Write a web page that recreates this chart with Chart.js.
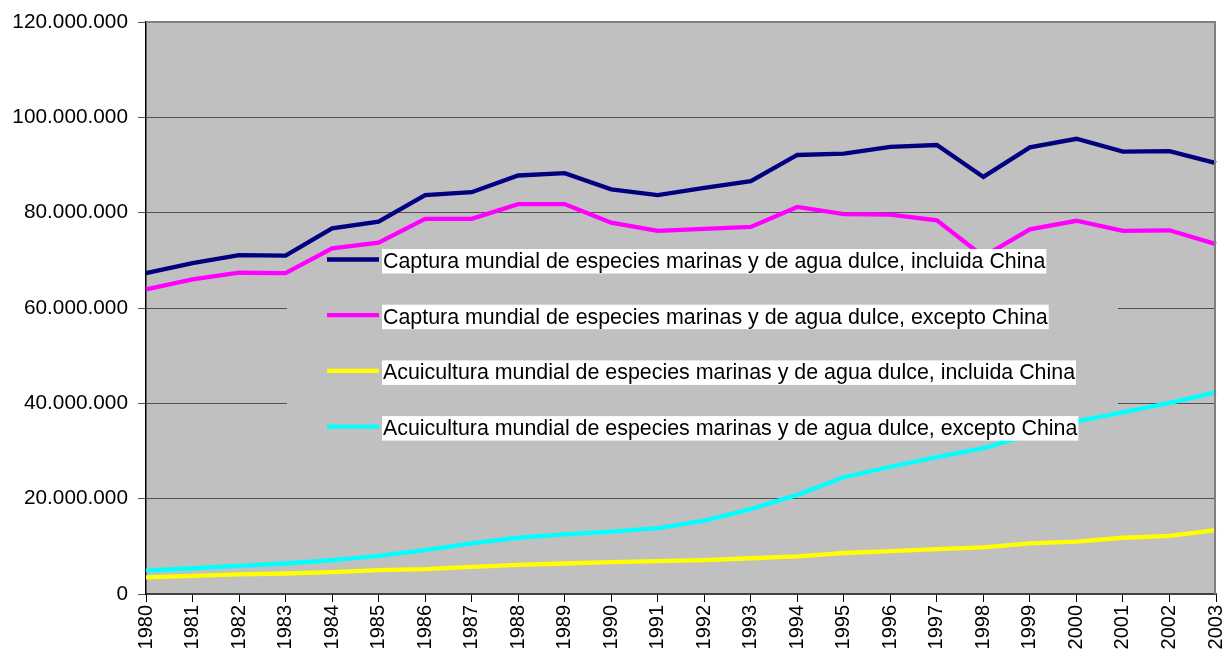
<!DOCTYPE html>
<html>
<head>
<meta charset="utf-8">
<script src="https://cdn.jsdelivr.net/npm/chart.js@4"></script>
<style>
  html, body { margin: 0; padding: 0; background: #ffffff; }
  #wrap { width: 1224px; height: 660px; }
</style>
</head>
<body>
<div id="wrap"><canvas id="chart"></canvas></div>
<script>
// Años (eje X)
const years = ['1980', '1981', '1982', '1983', '1984', '1985', '1986', '1987', '1988', '1989', '1990', '1991',
  '1992', '1993', '1994', '1995', '1996', '1997', '1998', '1999', '2000', '2001', '2002', '2003'];

// Toneladas por año
const capturaConChina = [67300000, 69400000, 71100000, 71000000, 76700000, 78100000, 83700000, 84300000,
  87800000, 88300000, 84900000, 83700000, 85200000, 86600000, 92100000, 92400000, 93800000, 94200000,
  87500000, 93700000, 95500000, 92800000, 92900000, 90400000];
const capturaSinChina = [63900000, 66000000, 67400000, 67300000, 72500000, 73700000, 78700000, 78700000,
  81800000, 81800000, 77900000, 76200000, 76600000, 77000000, 81200000, 79700000, 79600000, 78400000,
  70800000, 76500000, 78300000, 76200000, 76300000, 73400000];
const acuiculturaConChina = [3500000, 3800000, 4100000, 4300000, 4600000, 5000000, 5200000, 5700000,
  6100000, 6400000, 6700000, 6900000, 7100000, 7500000, 7900000, 8600000, 9000000, 9400000,
  9800000, 10600000, 11000000, 11800000, 12200000, 13400000];
const acuiculturaSinChina = [4900000, 5400000, 5900000, 6400000, 7100000, 8000000, 9200000, 10600000,
  11800000, 12500000, 13100000, 13800000, 15400000, 17800000, 20800000, 24500000, 26700000, 28700000,
  30600000, 33400000, 36200000, 38100000, 40100000, 42300000];

const yTicks = [0, 20000000, 40000000, 60000000, 80000000, 100000000, 120000000];

const FAMILY = "'Liberation Sans', Arial, sans-serif";
const FONT = { family: FAMILY, size: 20 };
const FONT_Y = { family: FAMILY, size: 20.8 };
const LEGEND_SIZE = 21.4;

function formatMiles(v) {
  return String(Math.round(v)).replace(/\B(?=(\d{3})+(?!\d))/g, '.');
}

function serie(label, data, color) {
  return {
    label: label,
    data: data,
    borderColor: color,
    backgroundColor: color,
    borderWidth: 4.3,
    pointRadius: 0,
    tension: 0,
    fill: false
  };
}

// fondo gris del área de trazado
const plotBackground = {
  id: 'plotBackground',
  beforeDraw(chart) {
    const { ctx, chartArea: a } = chart;
    ctx.save();
    ctx.fillStyle = '#c0c0c0';
    ctx.fillRect(a.left, a.top, a.right - a.left, a.bottom - a.top);
    ctx.restore();
  },
  afterDraw(chart) {
    const { ctx, chartArea: a } = chart;
    ctx.save();
    ctx.strokeStyle = '#808080';
    ctx.lineWidth = 2;
    ctx.beginPath();
    ctx.moveTo(a.left, a.top);
    ctx.lineTo(a.right - 1, a.top);
    ctx.lineTo(a.right - 1, a.bottom);
    ctx.stroke();
    ctx.restore();
  }
};

// leyenda dentro del gráfico, al estilo Excel
const LEGEND = { left: 287, top: 248, right: 1118, bottom: 445, firstRow: 261, rowStep: 55.7,
  lineX0: 327, lineX1: 379, textX: 382 };

const insideLegend = {
  id: 'insideLegend',
  beforeDatasetsDraw(chart) {
    const ctx = chart.ctx;
    ctx.save();
    ctx.fillStyle = '#c0c0c0';
    ctx.fillRect(LEGEND.left, LEGEND.top, LEGEND.right - LEGEND.left, LEGEND.bottom - LEGEND.top);
    ctx.restore();
  },
  afterDatasetsDraw(chart) {
    const ctx = chart.ctx;
    ctx.save();
    ctx.font = `${LEGEND_SIZE}px ${FAMILY}`;
    ctx.textBaseline = 'middle';
    chart.data.datasets.forEach((ds, i) => {
      const y = LEGEND.firstRow + i * LEGEND.rowStep;
      ctx.strokeStyle = ds.borderColor;
      ctx.lineWidth = 4.3;
      ctx.beginPath();
      ctx.moveTo(LEGEND.lineX0, y - 1.5);
      ctx.lineTo(LEGEND.lineX1, y - 1.5);
      ctx.stroke();
      const w = ctx.measureText(ds.label).width;
      ctx.fillStyle = '#ffffff';
      ctx.fillRect(LEGEND.textX, y - 12, w + 2, 24.5);
      ctx.fillStyle = '#000000';
      ctx.fillText(ds.label, LEGEND.textX + 1, y + 1);
    });
    ctx.restore();
  }
};

new Chart(document.getElementById('chart'), {
  type: 'line',
  data: {
    labels: years,
    datasets: [
      serie('Captura mundial de especies marinas y de agua dulce, incluida China', capturaConChina, '#000080'),
      serie('Captura mundial de especies marinas y de agua dulce, excepto China', capturaSinChina, '#ff00ff'),
      serie('Acuicultura mundial de especies marinas y de agua dulce, incluida China', acuiculturaConChina, '#ffff00'),
      serie('Acuicultura mundial de especies marinas y de agua dulce, excepto China', acuiculturaSinChina, '#00ffff')
    ]
  },
  options: {
    responsive: true,
    maintainAspectRatio: false,
    animation: false,
    layout: { padding: { top: 22, right: 8, bottom: 0, left: 0 } },
    plugins: {
      legend: { display: false },
      tooltip: { enabled: false }
    },
    scales: {
      x: {
        offset: false,
        grid: { drawOnChartArea: false, drawTicks: true, tickLength: 8, color: '#000000', lineWidth: 1 },
        border: { display: true, color: '#404040', width: 2 },
        ticks: {
          color: '#000000',
          font: FONT,
          minRotation: 90,
          maxRotation: 90,
          autoSkip: false,
          padding: 3
        },
        afterFit: (s) => { s.height = 66; s.paddingLeft = 0; s.paddingRight = 0; }
      },
      y: {
        min: 0,
        max: 120000000,
        afterBuildTicks: (s) => { s.ticks = yTicks.map(v => ({ value: v })); },
        grid: { color: '#505050', lineWidth: 1, drawTicks: true, tickLength: 8 },
        border: { display: true, color: '#000000', width: 1.5 },
        ticks: {
          color: '#000000',
          font: FONT_Y,
          padding: 10,
          callback: (v) => formatMiles(v)
        },
        afterFit: (s) => { s.width = 146; s.paddingTop = 0; s.paddingBottom = 0; }
      }
    }
  },
  plugins: [plotBackground, insideLegend]
});
</script>
</body>
</html>
